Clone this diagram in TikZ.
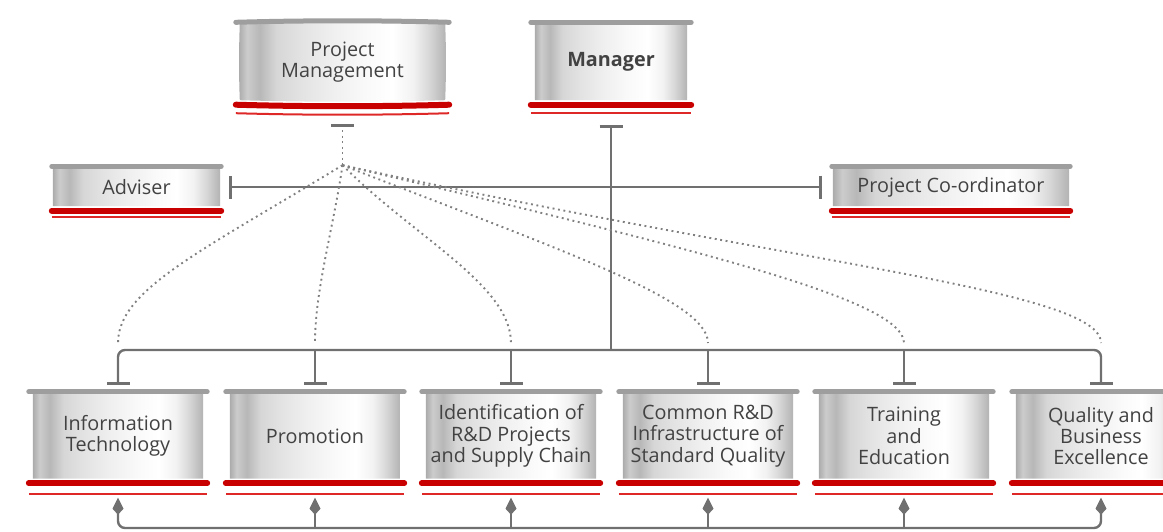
\documentclass[tikz,border=0pt]{standalone}
\usepackage{fontspec}
\setmainfont{Open Sans}
\usetikzlibrary{arrows.meta,calc}

\definecolor{linegray}{RGB}{112,112,112}
\definecolor{dotgray}{RGB}{128,128,128}
\definecolor{capgray}{RGB}{158,158,158}
\definecolor{drumred}{RGB}{200,0,0}
\definecolor{thinred}{RGB}{222,40,40}
\definecolor{txt}{RGB}{66,66,66}

% brushed-metal look of the drum bodies (stops kept inside 25bp..75bp)
\pgfdeclarehorizontalshading{drum}{100bp}{%
  color(0bp)=(black!33); color(25bp)=(black!33); color(27bp)=(black!20);
  color(30bp)=(black!28); color(34bp)=(black!16); color(40bp)=(black!11);
  color(48bp)=(black!6); color(56bp)=(black!2); color(62bp)=(white);
  color(67bp)=(black!5); color(71bp)=(black!16); color(75bp)=(black!30);
  color(100bp)=(black!30)}

\pgfdeclarelayer{background}
\pgfsetlayers{background,main}

\tikzset{
  conn/.style={draw=linegray, line width=2.4pt},
  dots/.style={draw=dotgray, line width=1.9pt, dash pattern=on 1.9pt off 3.6pt},
  capline/.style={draw=capgray, line width=5pt, line cap=round},
  redthick/.style={draw=drumred, line width=6pt, line cap=round},
  redthin/.style={draw=thinred, line width=2pt},
  drumtext/.style={inner sep=0pt, align=center, text=txt,
    font=\fontsize{19.8}{21.3}\selectfont},
  teebar/.tip={Bar[width=23pt, line width=3pt]},
  pointer/.tip={Kite[length=17pt, width=11pt, inset=6pt]},
}

% #1 name, #2 cx, #3 cy, #4 body width, #5 body height,
% #6 bulge, #7 rim overhang, #8 label, #9 gap to the thin red rim
\newcommand\drum[9]{%
  \node[drumtext, minimum width=#4pt, minimum height=#5pt] (#1) at (#2,#3) {#8};
  \begin{pgfonlayer}{background}
    \shade[shading=drum] (#1.north west)
      .. controls +(#4pt/3, #6pt) and +(-#4pt/3, #6pt) .. (#1.north east)
      .. controls +(#6pt/2, -#5pt/3) and +(#6pt/2, #5pt/3) .. (#1.south east)
      .. controls +(-#4pt/3, -#6pt) and +(#4pt/3, -#6pt) .. (#1.south west)
      .. controls +(-#6pt/2, #5pt/3) and +(-#6pt/2, -#5pt/3) .. cycle;
  \end{pgfonlayer}
  \draw[capline] ([shift={(-#7pt,1.5pt)}]#1.north west)
      .. controls +(#4pt/3, #6pt) and +(-#4pt/3, #6pt) .. ([shift={(#7pt,1.5pt)}]#1.north east);
  \draw[redthick] ([shift={(-#7pt,-4.5pt)}]#1.south west)
      .. controls +(#4pt/3, -#6pt) and +(-#4pt/3, -#6pt) .. ([shift={(#7pt,-4.5pt)}]#1.south east);
  \draw[redthin] ([shift={(-#7pt,-#9pt)}]#1.south west)
      .. controls +(#4pt/3, -#6pt) and +(-#4pt/3, -#6pt) .. ([shift={(#7pt,-#9pt)}]#1.south east);
}

\begin{document}
\begin{tikzpicture}[x=1pt,y=-1pt]
\useasboundingbox (0,0) rectangle (1163,531);

% upper level
\drum{pm}{342.5}{62}{205}{76}{2}{4}{Project\\Management}{13}
\drum{mgr}{611}{62}{152}{76}{0}{4}{\textbf{Manager}}{13}
\drum{adv}{136.5}{187}{167}{38}{0}{1}{Adviser}{11}
\drum{pc}{951}{187}{236}{38}{0}{1}{Project Co-ordinator}{11}

% working groups
\drum{b1}{118}{436}{170}{85}{0}{4}{Information\\Technology}{15}
\drum{b2}{315}{436}{170}{85}{0}{4}{Promotion}{15}
\drum{b3}{511}{436}{170}{85}{0}{4}{Identification of\\R\&D Projects\\and Supply Chain}{15}
\drum{b4}{708}{436}{170}{85}{0}{4}{Common R\&D\\Infrastructure of\\Standard Quality}{15}
\drum{b5}{904}{436}{170}{85}{0}{4}{Training\\and\\Education}{15}
\drum{b6}{1101}{436}{170}{85}{0}{4}{Quality and\\Business\\Excellence}{15}

% helper points
\coordinate (busY) at (0,350);
\coordinate (botY) at (0,528);
\coordinate (dotY) at (0,343);
\coordinate (pmT) at ([yshift=-25pt]pm.south);
\coordinate (hub) at ([yshift=-65pt]pm.south);
\coordinate (mgrT) at ([yshift=-25pt]mgr.south);
\foreach \b in {1,...,6}{
  \coordinate (t\b) at ([yshift=8pt]b\b.north);
  \coordinate (a\b) at ([yshift=-19pt]b\b.south);
  \coordinate (e\b) at (t\b |- dotY);
}

% line between adviser and co-ordinator
\draw[conn, teebar-teebar] ([xshift=9pt]adv.east) -- ([xshift=-11pt]pc.west);

% manager down to the group bus
\draw[conn, teebar-] (mgrT) -- (mgrT |- busY);
\draw[conn, rounded corners=7pt, teebar-teebar]
  (t1) -- (t1 |- busY) -- (t6 |- busY) -- (t6);
\foreach \b in {2,...,5}{
  \draw[conn, -teebar] (t\b |- busY) -- (t\b);
}

% feedback loop under the groups
\draw[conn, rounded corners=7pt, pointer-pointer]
  (a1) -- (a1 |- botY) -- (a6 |- botY) -- (a6);
\foreach \b in {2,...,5}{
  \draw[conn, -pointer] (a\b |- botY) -- (a\b);
}

% project management: dotted links
\draw[conn, line width=3pt] ([xshift=-11.5pt]pmT) -- ([xshift=11.5pt]pmT);
\draw[dots] ([yshift=-5pt]pmT) -- (hub);
\draw[dots] (hub) .. controls (200,252) and (118,290) .. (e1);
\draw[dots] (hub) .. controls (333,230) and (315,290) .. (e2);
\draw[dots] (hub) .. controls (415,238) and (511,285) .. (e3);
\draw[dots] (hub) .. controls (560,250) and (708,300) .. (e4);
\draw[dots] (hub) .. controls (700,250) and (904,300) .. (e5);
\draw[dots] (hub) .. controls (800,265) and (1101,290) .. (e6);
\end{tikzpicture}
\end{document}
